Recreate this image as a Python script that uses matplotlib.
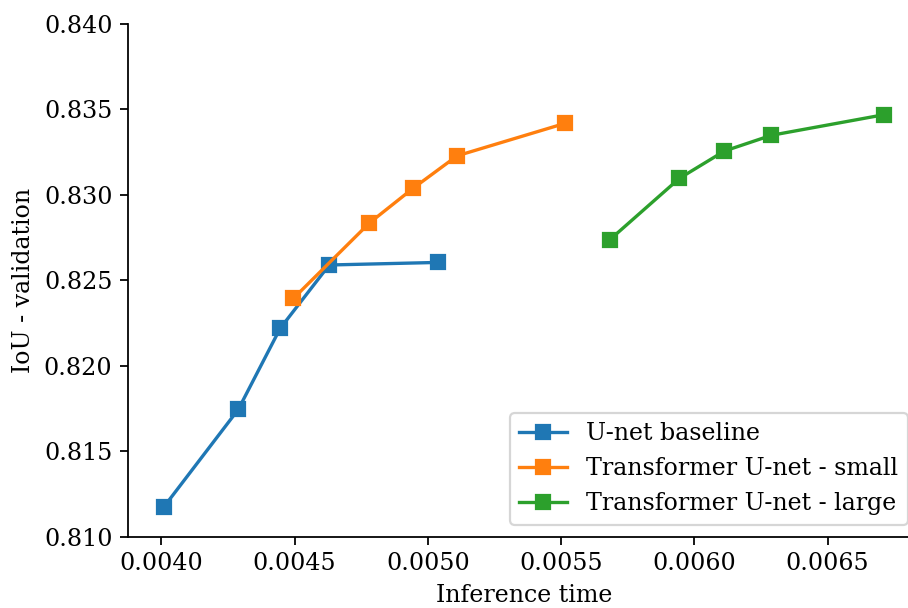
import matplotlib
matplotlib.use("Agg")
import matplotlib.pyplot as plt

plt.rcParams['font.family'] = 'serif'
plt.rcParams['font.serif'] = ['DejaVu Serif']
plt.rcParams['font.size'] = 10.7

# inference time vs validation IoU
unet_time = [0.00401, 0.004289, 0.004446, 0.004630, 0.005038]
unet_iou = [0.81174, 0.81744, 0.82218, 0.82589, 0.82604]

small_time = [0.004496, 0.004781, 0.004944, 0.005110, 0.005515]
small_iou = [0.82394, 0.82835, 0.83037, 0.83228, 0.83418]

large_time = [0.005683, 0.005944, 0.006113, 0.006289, 0.006710]
large_iou = [0.82737, 0.83096, 0.83256, 0.83348, 0.83468]

fig = plt.figure(figsize=(908 / 160, 608 / 160), dpi=160)
ax = fig.add_axes([128 / 908, 71.5 / 608, 791.5 / 908, 512.6 / 608])

ax.plot(unet_time, unet_iou, marker='s', ms=6.5, label='U-net baseline')
ax.plot(small_time, small_iou, marker='s', ms=6.5, label='Transformer U-net - small')
ax.plot(large_time, large_iou, marker='s', ms=6.5, label='Transformer U-net - large')

ax.set_ylim(0.810, 0.840)
ax.set_xlabel('Inference time')
ax.set_ylabel('IoU - validation')
ax.spines['top'].set_visible(False)
ax.spines['right'].set_visible(False)
ax.legend(loc='lower right')

fig.savefig('out.png', dpi=160)
